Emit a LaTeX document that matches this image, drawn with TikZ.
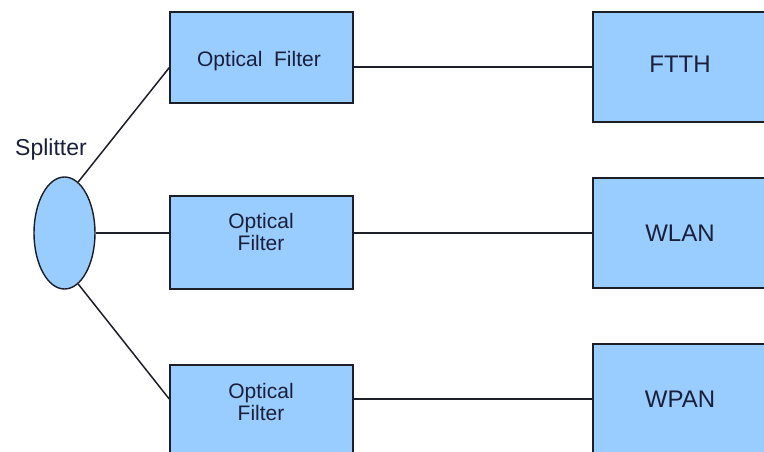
\documentclass[tikz,border=0pt]{standalone}
\usepackage{fontspec}
\setmainfont{Liberation Sans}
\usetikzlibrary{shapes.geometric,calc}
\definecolor{boxfill}{RGB}{153,204,255}
\definecolor{edge}{RGB}{28,30,40}
\definecolor{txt}{RGB}{26,31,58}
\begin{document}
\begin{tikzpicture}[x=1pt,y=-1pt,
  box/.style={draw=edge,line width=1.5pt,fill=boxfill,rectangle,inner sep=0pt},
  conn/.style={draw=edge,line width=1.5pt},
  ftext/.style={text=txt,font=\fontsize{21}{22}\selectfont,align=center,inner sep=0pt},
  rtext/.style={text=txt,font=\fontsize{24}{26}\selectfont,inner sep=0pt}]
\useasboundingbox (0,0) rectangle (764,452);
\clip (0,0) rectangle (764,452);
% filter boxes
\node[box,minimum width=183pt,minimum height=91pt] (f1) at (261.5,57.5) {};
\node[box,minimum width=183pt,minimum height=93pt] (f2) at (261.5,242.5) {};
\node[box,minimum width=183pt,minimum height=93pt] (f3) at (261.5,411.5) {};
% right boxes
\node[box,minimum width=200pt,minimum height=110pt] (ftth) at (693,67) {};
\node[box,minimum width=200pt,minimum height=110pt] (wlan) at (693,233) {};
\node[box,minimum width=200pt,minimum height=110pt] (wpan) at (693,399) {};
% splitter
\node[ellipse,draw=edge,line width=1.4pt,fill=boxfill,minimum width=61pt,minimum height=112pt,inner sep=0pt] (sp) at (64.5,233) {};
\node[text=txt,font=\fontsize{23}{25}\selectfont,inner sep=0pt,anchor=base] (spl) at (51,155) {Splitter};
% texts
\node[ftext,anchor=base] (t1) at (259,67) {Optical\ \ Filter};
\node[ftext] (t2) at (261,232) {Optical\\Filter};
\node[ftext] (t3) at (261,402) {Optical\\Filter};
\node[rtext,anchor=base] (t4) at (680,73) {FTTH};
\node[rtext,anchor=base] (t5) at (680,241) {WLAN};
\node[rtext,anchor=base] (t6) at (680,407) {WPAN};
% connectors
\draw[conn] (sp.75) -- ($(f1.north west)!0.61!(f1.south west)$);
\draw[conn] (sp.east) -- (sp.east -| f2.west);
\draw[conn] (sp.-75) -- (f3.west |- wpan.west);
\draw[conn] (f1.east |- ftth.west) -- (ftth.west);
\draw[conn] (f2.east |- wlan.west) -- (wlan.west);
\draw[conn] (f3.east |- wpan.west) -- (wpan.west);
\end{tikzpicture}
\end{document}
